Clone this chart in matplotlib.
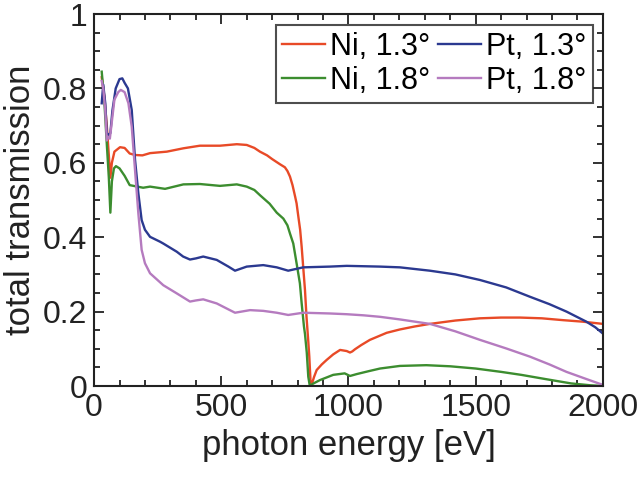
import matplotlib
matplotlib.use("Agg")
import matplotlib.pyplot as plt
from matplotlib.ticker import MultipleLocator

plt.rcParams['font.family'] = ['Liberation Sans', 'DejaVu Sans']

# Ni, 1.3 deg
ni13_E = [30, 40, 50, 58, 64, 70, 80, 102, 120, 140, 161, 190, 220, 286, 351, 416, 495, 561, 600,
          630, 652, 680, 700, 731, 750, 760, 770, 780, 790, 796, 803, 810, 816, 822, 829, 835, 842,
          846, 851, 855, 865, 875, 895, 914, 940, 967, 993, 1006, 1015, 1026, 1050, 1084, 1150,
          1202, 1260, 1320, 1420, 1517, 1600, 1674, 1760, 1844, 1920, 2000]
ni13_T = [0.83, 0.78, 0.70, 0.62, 0.56, 0.60, 0.63, 0.642, 0.64, 0.625, 0.621, 0.62, 0.626, 0.63,
          0.639, 0.646, 0.646, 0.65, 0.648, 0.64, 0.63, 0.62, 0.61, 0.596, 0.588, 0.578, 0.563,
          0.54, 0.51, 0.491, 0.455, 0.42, 0.374, 0.32, 0.258, 0.186, 0.12, 0.079, 0.01, 0.003,
          0.025, 0.043, 0.058, 0.07, 0.085, 0.097, 0.094, 0.09, 0.093, 0.099, 0.11, 0.124, 0.143,
          0.152, 0.16, 0.167, 0.176, 0.182, 0.184, 0.184, 0.182, 0.177, 0.173, 0.167]

# Ni, 1.8 deg
ni18_E = [30, 40, 50, 58, 64, 70, 78, 86, 100, 120, 140, 155, 193, 220, 279, 351, 416, 495, 561, 600,
          630, 652, 690, 718, 744, 760, 770, 783, 796, 809, 816, 825, 829, 836, 842, 848, 860, 888,
          940, 985, 1006, 1032, 1080, 1124, 1202, 1306, 1400, 1500, 1600, 1679, 1780, 1875, 1950, 2000]
ni18_T = [0.845, 0.77, 0.65, 0.56, 0.466, 0.55, 0.585, 0.591, 0.585, 0.565, 0.54, 0.538, 0.533,
          0.536, 0.53, 0.542, 0.543, 0.538, 0.542, 0.536, 0.527, 0.513, 0.49, 0.466, 0.45, 0.432,
          0.41, 0.383, 0.33, 0.276, 0.222, 0.16, 0.14, 0.09, 0.025, 0.0, 0.006, 0.016, 0.03, 0.034,
          0.027, 0.032, 0.04, 0.047, 0.054, 0.056, 0.053, 0.047, 0.038, 0.03, 0.018, 0.007, 0.002, 0.0]

# Pt, 1.3 deg
pt13_E = [30, 36, 44, 50, 58, 64, 72, 85, 100, 111, 120, 133, 148, 161, 174, 187, 200, 220, 259,
          272, 325, 350, 377, 400, 429, 482, 528, 554, 600, 665, 718, 763, 822, 927, 993, 1124, 1202,
          1320, 1420, 1517, 1620, 1713, 1790, 1857, 1935, 1970, 2000]
pt13_T = [0.76, 0.81, 0.76, 0.68, 0.675, 0.68, 0.74, 0.80, 0.825, 0.827, 0.815, 0.80, 0.742, 0.608,
          0.518, 0.446, 0.42, 0.401, 0.388, 0.383, 0.361, 0.348, 0.34, 0.343, 0.348, 0.339, 0.321,
          0.31, 0.321, 0.325, 0.319, 0.31, 0.319, 0.321, 0.323, 0.321, 0.319, 0.31, 0.3, 0.285,
          0.265, 0.24, 0.22, 0.2, 0.173, 0.158, 0.141]

# Pt, 1.8 deg
pt18_E = [30, 36, 44, 50, 55, 62, 68, 80, 95, 105, 120, 135, 148, 161, 174, 187, 200, 220, 272, 325,
          377, 400, 429, 482, 528, 554, 613, 665, 718, 763, 822, 927, 993, 1060, 1124, 1202, 1320,
          1420, 1517, 1620, 1713, 1790, 1857, 1930, 2000]
pt18_T = [0.82, 0.80, 0.74, 0.66, 0.67, 0.665, 0.70, 0.77, 0.79, 0.796, 0.79, 0.76, 0.697, 0.58,
          0.464, 0.366, 0.33, 0.303, 0.271, 0.249, 0.227, 0.23, 0.233, 0.222, 0.206, 0.197, 0.204,
          0.202, 0.197, 0.191, 0.197, 0.195, 0.193, 0.19, 0.186, 0.179, 0.167, 0.147, 0.124, 0.101,
          0.079, 0.058, 0.038, 0.02, 0.003]

labels = ["Ni, 1.3°", "Ni, 1.8°", "Pt, 1.3°", "Pt, 1.8°"]
colors = ["#e84a27", "#3c8d2f", "#2b3990", "#b57bbf"]

fig = plt.figure(figsize=(6.4, 4.83), dpi=100)
ax = fig.add_axes([0.147, 0.2008, 0.795, 0.7702])

series = [(ni13_E, ni13_T), (ni18_E, ni18_T), (pt13_E, pt13_T), (pt18_E, pt18_T)]
for (E, T), lab, c in zip(series, labels, colors):
    ax.plot(E, T, color=c, lw=1.7, label=lab)

ax.set_xlim(0, 2000)
ax.set_ylim(0, 1)
ax.xaxis.set_major_locator(MultipleLocator(500))
ax.xaxis.set_minor_locator(MultipleLocator(100))
ax.yaxis.set_minor_locator(MultipleLocator(0.05))
ax.set_yticks([0, 0.2, 0.4, 0.6, 0.8, 1])
ax.set_yticklabels(["0", "0.2", "0.4", "0.6", "0.8", "1"])
ax.tick_params(which='both', direction='in', top=True, right=True, width=1.3, labelsize=23, colors='#222222')
ax.tick_params(which='major', length=7, pad=5)
ax.tick_params(which='minor', length=4)
for s in ax.spines.values():
    s.set_linewidth(1.5)
    s.set_color('#222222')

ax.set_xlabel("photon energy [eV]", fontsize=25, color='#222222', labelpad=4)
ax.set_ylabel("total transmission", fontsize=25, color='#222222', labelpad=4)

leg = ax.legend(ncol=2, loc='upper right', bbox_to_anchor=(0.98, 0.97), fontsize=22,
                frameon=True, fancybox=False, edgecolor='#222222', handlelength=1.4,
                handletextpad=0.16, columnspacing=0.25, borderpad=0.22, labelspacing=0.14,
                borderaxespad=0.0)
leg.get_frame().set_linewidth(1.5)

fig.savefig("out.png", dpi=100)
